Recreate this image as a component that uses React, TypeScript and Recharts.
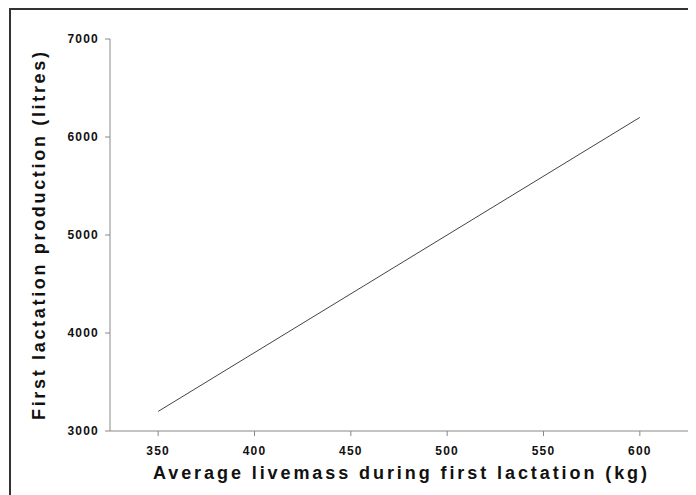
import { LineChart, Line, XAxis, YAxis } from "recharts";

// x: average livemass (kg), y: first lactation production (litres)
const livemass = [350, 600];
const production = [3200, 6200];
const xTicks = [350, 400, 450, 500, 550, 600];
const yTicks = [3000, 4000, 5000, 6000, 7000];

const data = livemass.map((m, i) => ({ mass: m, litres: production[i] }));

const font = "'Liberation Sans', Arial, sans-serif";
const tickStyle = { fill: "#111", fontSize: 12, fontWeight: 700, fontFamily: font, letterSpacing: 1.2 };
const titleStyle = { fontFamily: font, fontSize: 18, fontWeight: 700, fill: "#111" };

export default function App() {
  return (
    <div style={{ position: "relative", width: 688, height: 487 }}>
      {/* frame, clipped by the picture on right and bottom */}
      <div
        style={{
          position: "absolute",
          left: 1,
          top: 0,
          right: 0,
          bottom: 0,
          borderTop: "2px solid #333",
          borderLeft: "2px solid #333",
        }}
      />
      <LineChart
        width={688}
        height={487}
        data={data}
        margin={{ top: 31, right: 8, left: 42, bottom: 34 }}
        style={{ position: "absolute", left: 0, top: 0 }}
      >
        <XAxis
          dataKey="mass"
          type="number"
          domain={[325, 625]}
          ticks={xTicks}
          tick={tickStyle}
          tickSize={5}
          tickMargin={10}
          height={30}
          stroke="#888"
          label={{
            content: () => (
              <text x={392} y={471} textAnchor="middle" textLength={494} lengthAdjust="spacing" style={titleStyle}>
                Average livemass during first lactation (kg)
              </text>
            ),
          }}
        />
        <YAxis
          type="number"
          domain={[3000, 7000]}
          ticks={yTicks}
          tick={tickStyle}
          tickSize={5}
          tickMargin={6}
          width={60}
          stroke="#888"
          label={{
            content: () => (
              <text
                x={37}
                y={228}
                transform="rotate(-90 37 228)"
                textAnchor="middle"
                textLength={368}
                lengthAdjust="spacing"
                style={titleStyle}
              >
                First lactation production (litres)
              </text>
            ),
          }}
        />
        <Line
          dataKey="litres"
          type="linear"
          stroke="#444"
          strokeWidth={1}
          dot={false}
          isAnimationActive={false}
        />
      </LineChart>
    </div>
  );
}
